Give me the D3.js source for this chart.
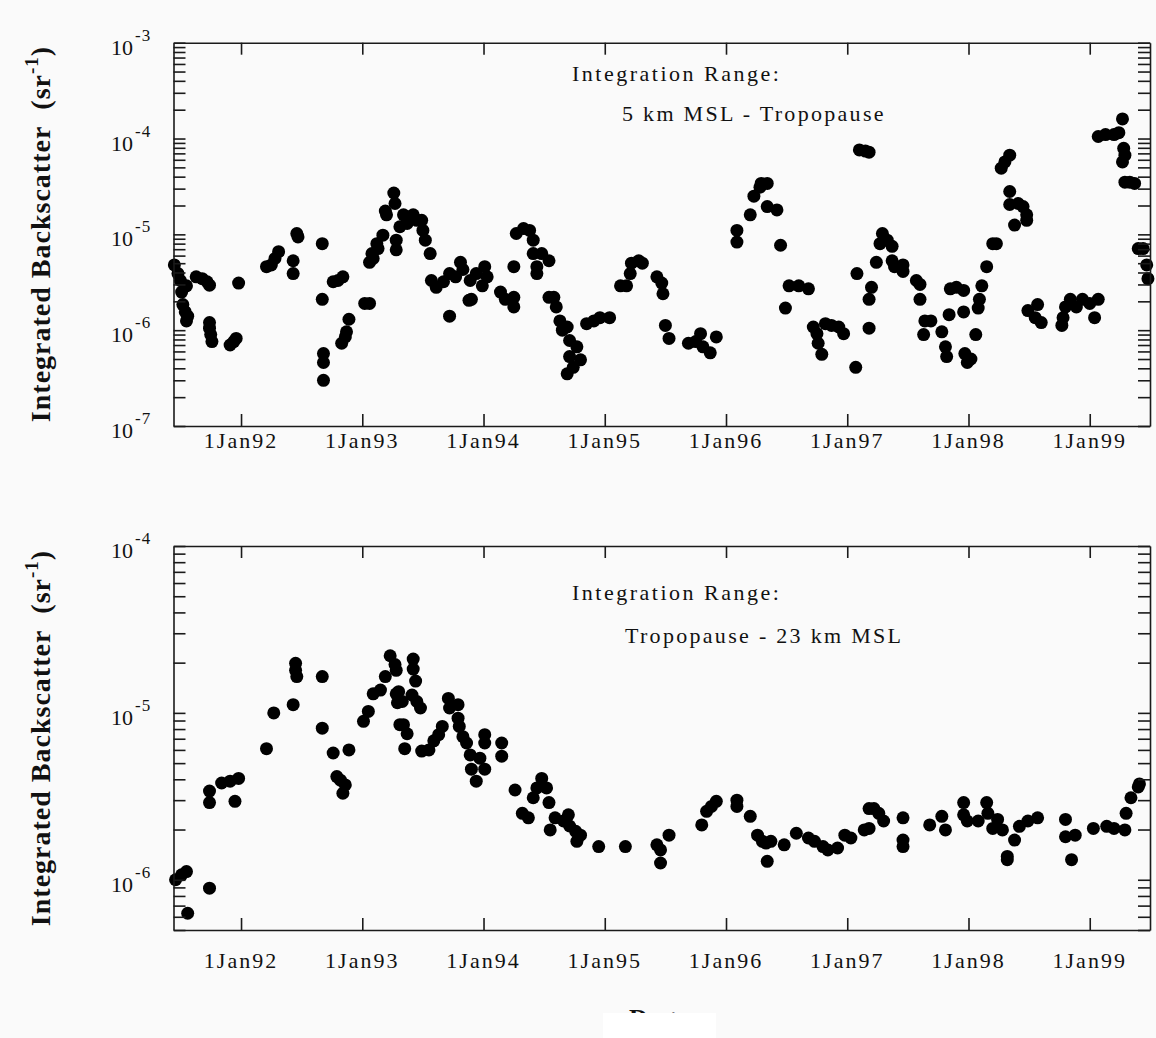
<!DOCTYPE html>
<html>
<head>
<meta charset="utf-8">
<script src="https://d3js.org/d3.v7.min.js"></script>
<style>
  body { margin: 0; background: #fafafa; }
  svg { display: block; }
</style>
</head>
<body>
<div id="chart"></div>
<script>
// tick years (1 Jan of each year)
var yearTicks = [1992, 1993, 1994, 1995, 1996, 1997, 1998, 1999];

// [decimal year, integrated backscatter sr^-1]
// upper panel: 5 km MSL - tropopause
var upperPoints = [
  [1991.45, 4.8e-6], [1991.48, 3.9e-6], [1991.50, 3.3e-6], [1991.51, 2.5e-6], [1991.55, 2.9e-6],
  [1991.52, 1.85e-6], [1991.54, 1.55e-6], [1991.56, 1.4e-6], [1991.55, 1.25e-6], [1991.63, 3.6e-6],
  [1991.68, 3.45e-6], [1991.72, 3.2e-6], [1991.74, 2.95e-6], [1991.74, 1.2e-6], [1991.74, 1.05e-6],
  [1991.75, 9.0e-7], [1991.76, 7.6e-7], [1991.91, 7.0e-7], [1991.94, 7.6e-7], [1991.96, 8.2e-7],
  [1991.98, 3.1e-6], [1992.21, 4.6e-6], [1992.25, 4.8e-6], [1992.28, 5.6e-6], [1992.31, 6.6e-6],
  [1992.43, 5.3e-6], [1992.43, 3.9e-6], [1992.46, 1.02e-5], [1992.47, 9.4e-6], [1992.67, 8.0e-6],
  [1992.67, 2.1e-6], [1992.68, 5.7e-7], [1992.68, 4.6e-7], [1992.68, 3.0e-7], [1992.76, 3.2e-6],
  [1992.80, 3.3e-6], [1992.84, 3.6e-6], [1992.83, 7.3e-7], [1992.86, 8.5e-7], [1992.87, 9.6e-7],
  [1992.89, 1.3e-6], [1993.02, 1.9e-6], [1993.06, 1.9e-6], [1993.06, 5.1e-6], [1993.09, 5.6e-6],
  [1993.13, 7.1e-6], [1993.17, 9.8e-6], [1993.20, 1.6e-5], [1993.26, 2.7e-5], [1993.08, 6.3e-6],
  [1993.12, 8.0e-6], [1993.19, 1.75e-5], [1993.27, 2.1e-5], [1993.28, 8.7e-6], [1993.28, 6.9e-6],
  [1993.31, 1.2e-5], [1993.34, 1.6e-5], [1993.37, 1.3e-5], [1993.42, 1.6e-5], [1993.45, 1.4e-5],
  [1993.49, 1.4e-5], [1993.50, 1.1e-5], [1993.52, 8.7e-6], [1993.56, 6.3e-6], [1993.57, 3.3e-6],
  [1993.61, 2.8e-6], [1993.67, 3.2e-6], [1993.72, 1.4e-6], [1993.72, 3.9e-6], [1993.77, 3.6e-6],
  [1993.81, 5.1e-6], [1993.83, 4.3e-6], [1993.88, 2.05e-6], [1993.90, 2.1e-6], [1993.89, 3.3e-6],
  [1993.94, 3.9e-6], [1993.99, 2.9e-6], [1994.01, 4.6e-6], [1994.03, 3.6e-6], [1994.14, 2.5e-6],
  [1994.18, 2.1e-6], [1994.25, 2.2e-6], [1994.25, 1.75e-6], [1994.25, 4.6e-6], [1994.27, 1.02e-5],
  [1994.33, 1.15e-5], [1994.38, 1.1e-5], [1994.41, 8.7e-6], [1994.41, 6.3e-6], [1994.44, 4.6e-6],
  [1994.44, 3.9e-6], [1994.48, 6.3e-6], [1994.54, 5.3e-6], [1994.54, 2.2e-6], [1994.58, 2.2e-6],
  [1994.60, 1.75e-6], [1994.63, 1.25e-6], [1994.65, 1.0e-6], [1994.69, 1.08e-6], [1994.71, 7.8e-7],
  [1994.77, 6.7e-7], [1994.71, 5.3e-7], [1994.69, 3.5e-7], [1994.74, 4.1e-7], [1994.80, 4.9e-7],
  [1994.85, 1.17e-6], [1994.91, 1.25e-6], [1994.96, 1.35e-6], [1995.04, 1.35e-6], [1995.13, 2.9e-6],
  [1995.18, 2.9e-6], [1995.21, 3.9e-6], [1995.22, 5.0e-6], [1995.28, 5.3e-6], [1995.31, 5.0e-6],
  [1995.43, 3.6e-6], [1995.47, 3.1e-6], [1995.48, 2.4e-6], [1995.50, 1.12e-6], [1995.53, 8.2e-7],
  [1995.69, 7.3e-7], [1995.75, 7.6e-7], [1995.79, 9.2e-7], [1995.81, 6.7e-7], [1995.87, 5.8e-7],
  [1995.92, 8.5e-7], [1996.09, 1.1e-5], [1996.09, 8.3e-6], [1996.20, 1.6e-5], [1996.23, 2.5e-5],
  [1996.28, 3.1e-5], [1996.34, 3.4e-5], [1996.34, 1.95e-5], [1996.29, 3.4e-5], [1996.42, 1.8e-5],
  [1996.45, 7.7e-6], [1996.52, 2.9e-6], [1996.49, 1.7e-6], [1996.60, 2.9e-6], [1996.68, 2.7e-6],
  [1996.72, 1.08e-6], [1996.75, 9.2e-7], [1996.76, 7.3e-7], [1996.79, 5.6e-7], [1996.82, 1.17e-6],
  [1996.87, 1.12e-6], [1996.93, 1.08e-6], [1996.97, 9.2e-7], [1997.07, 4.1e-7], [1997.08, 3.9e-6],
  [1997.10, 7.6e-5], [1997.15, 7.4e-5], [1997.18, 7.2e-5], [1997.20, 2.8e-6], [1997.18, 2.1e-6],
  [1997.18, 1.05e-6], [1997.24, 5.1e-6], [1997.29, 1.02e-5], [1997.27, 8.0e-6], [1997.33, 8.7e-6],
  [1997.37, 7.5e-6], [1997.37, 5.3e-6], [1997.39, 4.6e-6], [1997.46, 4.8e-6], [1997.46, 4.1e-6],
  [1997.57, 3.3e-6], [1997.60, 3.0e-6], [1997.60, 2.1e-6], [1997.64, 1.25e-6], [1997.69, 1.25e-6],
  [1997.63, 9.0e-7], [1997.78, 9.6e-7], [1997.81, 6.7e-7], [1997.82, 5.3e-7], [1997.84, 1.45e-6],
  [1997.85, 2.7e-6], [1997.90, 2.8e-6], [1997.96, 2.6e-6], [1997.96, 1.55e-6], [1997.97, 5.7e-7],
  [1997.99, 4.6e-7], [1998.02, 5.0e-7], [1998.06, 9.0e-7], [1998.08, 1.7e-6], [1998.09, 2.1e-6],
  [1998.11, 2.9e-6], [1998.15, 4.6e-6], [1998.20, 8.0e-6], [1998.23, 8.0e-6], [1998.27, 4.9e-5],
  [1998.30, 5.7e-5], [1998.34, 6.7e-5], [1998.34, 2.8e-5], [1998.34, 2.05e-5], [1998.38, 1.25e-5],
  [1998.41, 2.1e-5], [1998.45, 1.95e-5], [1998.48, 1.6e-5], [1998.48, 1.4e-5], [1998.49, 1.6e-6],
  [1998.55, 1.35e-6], [1998.57, 1.85e-6], [1998.60, 1.2e-6], [1998.77, 1.12e-6], [1998.78, 1.35e-6],
  [1998.80, 1.75e-6], [1998.84, 2.1e-6], [1998.89, 1.75e-6], [1998.94, 2.1e-6], [1999.00, 1.9e-6],
  [1999.04, 1.35e-6], [1999.07, 2.1e-6], [1999.07, 1.05e-4], [1999.13, 1.1e-4], [1999.20, 1.1e-4],
  [1999.24, 1.15e-4], [1999.27, 1.6e-4], [1999.28, 7.9e-5], [1999.29, 6.7e-5], [1999.27, 5.7e-5],
  [1999.29, 3.5e-5], [1999.33, 3.5e-5], [1999.37, 3.4e-5], [1999.40, 7.1e-6], [1999.44, 7.1e-6],
  [1999.47, 4.8e-6], [1999.48, 3.45e-6]
];

// lower panel: tropopause - 23 km MSL
var lowerPoints = [
  [1991.46, 1.0e-6], [1991.51, 1.07e-6], [1991.55, 1.12e-6], [1991.56, 6.3e-7], [1991.74, 8.9e-7],
  [1991.74, 3.4e-6], [1991.74, 2.9e-6], [1991.84, 3.8e-6], [1991.91, 3.9e-6], [1991.98, 4.05e-6],
  [1991.95, 2.95e-6], [1992.21, 6.1e-6], [1992.27, 1.0e-5], [1992.43, 1.12e-5], [1992.45, 1.8e-5],
  [1992.46, 1.65e-5], [1992.45, 1.98e-5], [1992.67, 1.65e-5], [1992.67, 8.1e-6], [1992.76, 5.75e-6],
  [1992.89, 6.0e-6], [1992.79, 4.15e-6], [1992.82, 3.95e-6], [1992.86, 3.7e-6], [1992.84, 3.3e-6],
  [1993.01, 8.9e-6], [1993.05, 1.02e-5], [1993.09, 1.3e-5], [1993.15, 1.37e-5], [1993.19, 1.65e-5],
  [1993.23, 2.2e-5], [1993.28, 1.8e-5], [1993.28, 1.3e-5], [1993.29, 1.15e-5], [1993.31, 8.5e-6],
  [1993.27, 1.95e-5], [1993.30, 1.34e-5], [1993.33, 1.17e-5], [1993.34, 8.5e-6], [1993.37, 7.5e-6],
  [1993.35, 6.1e-6], [1993.42, 2.1e-5], [1993.42, 1.83e-5], [1993.44, 1.55e-5], [1993.41, 1.28e-5],
  [1993.45, 1.17e-5], [1993.48, 1.07e-5], [1993.49, 5.9e-6], [1993.55, 6.0e-6], [1993.59, 6.8e-6],
  [1993.63, 7.4e-6], [1993.66, 8.3e-6], [1993.71, 1.22e-5], [1993.72, 1.07e-5], [1993.79, 1.12e-5],
  [1993.79, 9.3e-6], [1993.80, 8.3e-6], [1993.83, 7.2e-6], [1993.86, 6.6e-6], [1993.89, 5.6e-6],
  [1993.90, 4.6e-6], [1993.94, 3.9e-6], [1993.97, 5.35e-6], [1994.01, 7.4e-6], [1994.01, 6.6e-6],
  [1994.01, 4.6e-6], [1994.15, 6.6e-6], [1994.15, 5.5e-6], [1994.26, 3.45e-6], [1994.32, 2.5e-6],
  [1994.37, 2.35e-6], [1994.41, 3.1e-6], [1994.44, 3.55e-6], [1994.48, 4.05e-6], [1994.52, 3.55e-6],
  [1994.54, 2.9e-6], [1994.55, 1.99e-6], [1994.59, 2.35e-6], [1994.66, 2.25e-6], [1994.70, 2.45e-6],
  [1994.71, 2.1e-6], [1994.76, 1.95e-6], [1994.77, 1.7e-6], [1994.80, 1.85e-6], [1994.95, 1.58e-6],
  [1995.17, 1.58e-6], [1995.43, 1.62e-6], [1995.46, 1.51e-6], [1995.46, 1.26e-6], [1995.53, 1.85e-6],
  [1995.80, 2.13e-6], [1995.84, 2.57e-6], [1995.88, 2.75e-6], [1995.92, 2.95e-6], [1996.09, 3.0e-6],
  [1996.09, 2.75e-6], [1996.20, 2.4e-6], [1996.26, 1.85e-6], [1996.30, 1.7e-6], [1996.34, 1.29e-6],
  [1996.33, 1.66e-6], [1996.37, 1.7e-6], [1996.48, 1.62e-6], [1996.58, 1.9e-6], [1996.68, 1.78e-6],
  [1996.73, 1.7e-6], [1996.80, 1.58e-6], [1996.84, 1.51e-6], [1996.92, 1.55e-6], [1996.98, 1.85e-6],
  [1997.03, 1.78e-6], [1997.14, 1.99e-6], [1997.18, 2.03e-6], [1997.18, 2.67e-6], [1997.22, 2.67e-6],
  [1997.26, 2.5e-6], [1997.30, 2.25e-6], [1997.46, 2.35e-6], [1997.46, 1.73e-6], [1997.46, 1.58e-6],
  [1997.68, 2.13e-6], [1997.78, 2.4e-6], [1997.81, 1.99e-6], [1997.96, 2.9e-6], [1997.96, 2.45e-6],
  [1997.99, 2.25e-6], [1998.08, 2.25e-6], [1998.15, 2.9e-6], [1998.16, 2.5e-6], [1998.20, 2.03e-6],
  [1998.24, 2.3e-6], [1998.28, 1.99e-6], [1998.32, 1.38e-6], [1998.32, 1.32e-6], [1998.38, 1.73e-6],
  [1998.42, 2.09e-6], [1998.49, 2.25e-6], [1998.57, 2.35e-6], [1998.80, 2.3e-6], [1998.80, 1.81e-6],
  [1998.85, 1.32e-6], [1998.88, 1.85e-6], [1999.03, 2.03e-6], [1999.14, 2.09e-6], [1999.20, 2.03e-6],
  [1999.29, 1.99e-6], [1999.30, 2.5e-6], [1999.34, 3.1e-6], [1999.40, 3.6e-6], [1999.41, 3.75e-6]
];

var upperRange = [1e-7, 1e-3];
var lowerRange = [5e-7, 1e-4];

var W = 1156, H = 1038;
var left = 173.5, right = 1150;
var serif = "'Liberation Serif', 'Times New Roman', serif";

var svg = d3.select("#chart").append("svg")
    .attr("width", W)
    .attr("height", H)
    .style("background", "#fafafa");

var x = d3.scaleLinear()
    .domain([1991.443, 1999.497])
    .range([left, right]);

function drawPanel(cfg) {
    var y = d3.scaleLog()
        .domain(cfg.range)
        .range([cfg.bottom, cfg.top]);
    var yt = y.ticks();
    var g = svg.append("g");

    // points first, frame and ticks on top
    g.append("g").selectAll("circle")
        .data(cfg.points)
        .join("circle")
        .attr("cx", d => x(d[0]))
        .attr("cy", d => y(d[1]))
        .attr("r", 6.5)
        .attr("fill", "#000");

    var axes = [
        d3.axisBottom(x).tickValues(yearTicks).tickSizeInner(-12).tickSizeOuter(0).tickFormat(""),
        d3.axisTop(x).tickValues(yearTicks).tickSizeInner(-12).tickSizeOuter(0).tickFormat(""),
        d3.axisLeft(y).tickValues(yt).tickSizeInner(-12).tickSizeOuter(0).tickFormat(""),
        d3.axisRight(y).tickValues(yt).tickSizeInner(-12).tickSizeOuter(0).tickFormat("")
    ];
    var shifts = [[0, cfg.bottom], [0, cfg.top], [left, 0], [right, 0]];
    axes.forEach(function (ax, i) {
        var a = g.append("g")
            .attr("transform", "translate(" + shifts[i][0] + "," + shifts[i][1] + ")")
            .call(ax);
        a.selectAll("path, line").attr("stroke", "#1a1a1a").attr("stroke-width", 1.6);
    });

    // year labels
    g.append("g").selectAll("text")
        .data(yearTicks)
        .join("text")
        .attr("x", d => x(d))
        .attr("y", cfg.bottom + cfg.labelGap)
        .attr("text-anchor", "middle")
        .style("font-family", serif)
        .style("font-size", "22px")
        .style("letter-spacing", "2px")
        .attr("fill", "#111")
        .text(d => "1Jan" + String(d).slice(2));

    // decade labels as 10 with superscript exponent
    var decades = yt.filter(d => Math.abs(Math.log10(d) - Math.round(Math.log10(d))) < 1e-9);
    var lab = g.append("g").selectAll("g")
        .data(decades)
        .join("g");
    lab.append("text")
        .attr("x", 133)
        .attr("y", d => y(d) + 12)
        .attr("text-anchor", "end")
        .style("font-family", serif)
        .style("font-size", "22px")
        .attr("fill", "#111")
        .text("10");
    lab.append("text")
        .attr("x", 135)
        .attr("y", d => y(d) - 2)
        .style("font-family", serif)
        .style("font-size", "17px")
        .style("letter-spacing", "1px")
        .attr("fill", "#111")
        .text(d => "-" + Math.round(-Math.log10(d)));

    // annotation
    g.append("text")
        .attr("x", 572)
        .attr("y", cfg.top + cfg.note1)
        .style("font-family", serif)
        .style("font-size", "22px")
        .style("letter-spacing", "2.5px")
        .attr("fill", "#111")
        .text("Integration Range:");
    g.append("text")
        .attr("x", cfg.note2x)
        .attr("y", cfg.top + cfg.note2)
        .style("font-family", serif)
        .style("font-size", "22px")
        .style("letter-spacing", "2.3px")
        .attr("fill", "#111")
        .text(cfg.rangeText);

    // y axis title
    var t = g.append("text")
        .attr("transform", "translate(50," + cfg.titleY + ") rotate(-90)")
        .attr("text-anchor", "middle")
        .style("font-family", serif)
        .style("font-size", "28px")
        .style("font-weight", "bold")
        .style("letter-spacing", "1px")
        .attr("fill", "#111");
    t.append("tspan").text("Integrated Backscatter\u00a0\u00a0(sr");
    t.append("tspan").attr("dy", -12).style("font-size", "19px").text("-1");
    t.append("tspan").attr("dy", 12).text(")");
}

drawPanel({
    points: upperPoints, range: upperRange, top: 42.7, bottom: 426,
    labelGap: 22, note1: 38, note2: 78, note2x: 622,
    rangeText: "5 km MSL - Tropopause", titleY: 234
});

drawPanel({
    points: lowerPoints, range: lowerRange, top: 546, bottom: 930,
    labelGap: 38, note1: 54, note2: 97, note2x: 625,
    rangeText: "Tropopause - 23 km MSL", titleY: 738
});

// x axis title, mostly hidden behind a white patch in the original
svg.append("text")
    .attr("x", 663)
    .attr("y", 1027)
    .attr("text-anchor", "middle")
    .style("font-family", serif)
    .style("font-size", "26px")
    .style("font-weight", "bold")
    .style("letter-spacing", "4px")
    .attr("fill", "#111")
    .text("Date");
svg.append("rect")
    .attr("x", 603)
    .attr("y", 1013)
    .attr("width", 113)
    .attr("height", 25)
    .attr("fill", "#fff");
</script>
</body>
</html>
